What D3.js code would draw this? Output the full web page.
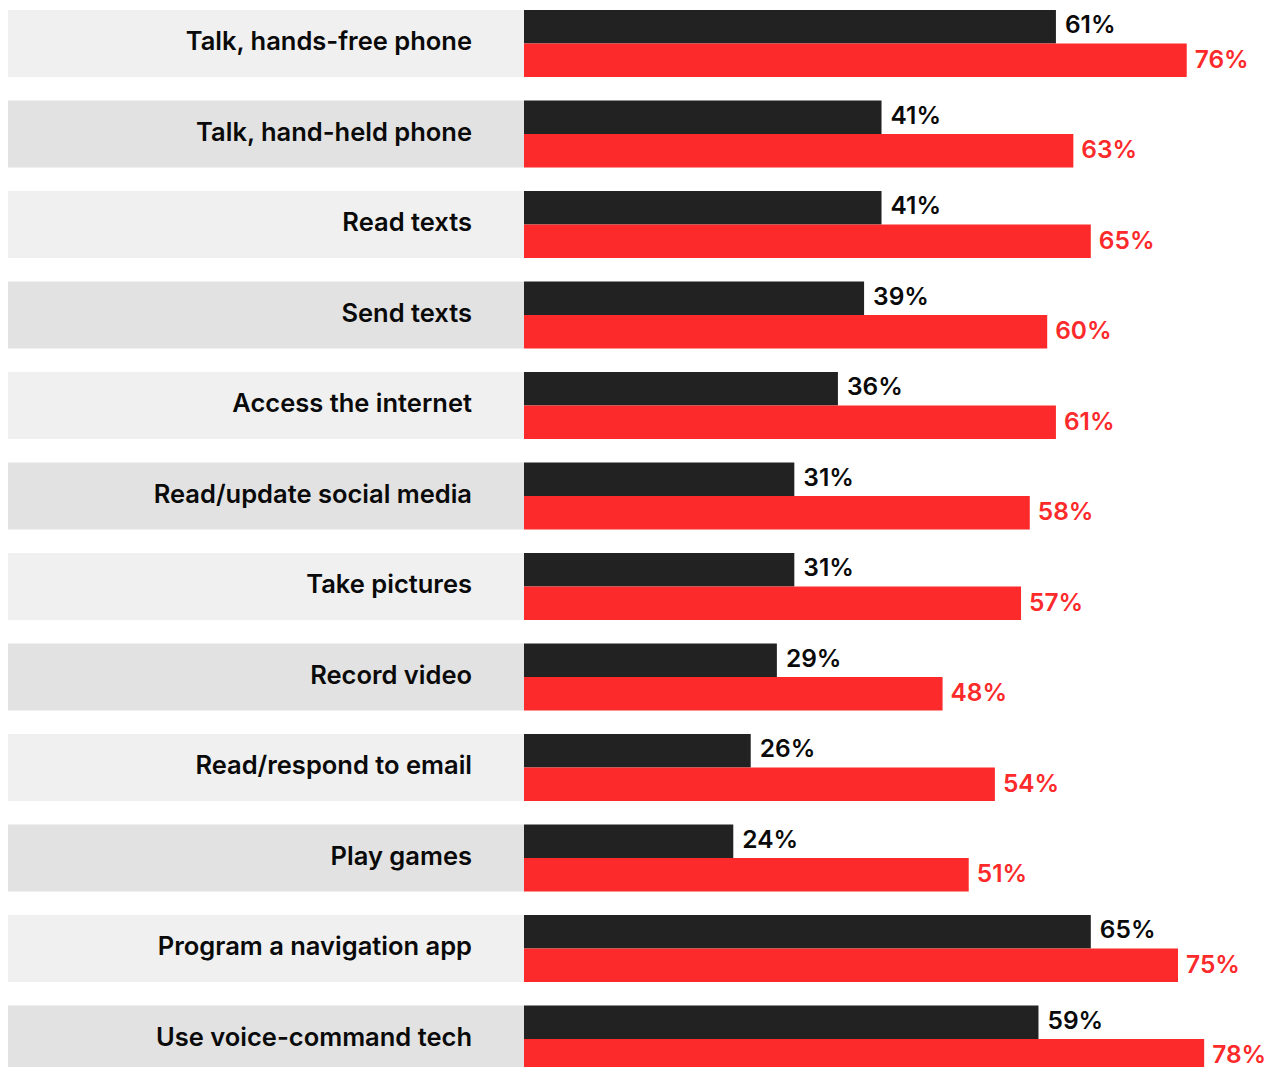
<!DOCTYPE html>
<html>
<head>
<meta charset="utf-8">
<script src="https://cdn.jsdelivr.net/npm/d3@7"></script>
<style>
  html, body { margin: 0; padding: 0; background: #fff; }
  svg { display: block; }
  text { font-family: Inter, "Noto Sans", sans-serif; font-weight: 600; }
</style>
</head>
<body>
<svg id="chart" width="1269" height="1067"></svg>
<script>
const categories = [
  "Talk, hands-free phone",
  "Talk, hand-held phone",
  "Read texts",
  "Send texts",
  "Access the internet",
  "Read/update social media",
  "Take pictures",
  "Record video",
  "Read/respond to email",
  "Play games",
  "Program a navigation app",
  "Use voice-command tech"
];
const seriesBlack = [61, 41, 41, 39, 36, 31, 31, 29, 26, 24, 65, 59];
const seriesRed   = [76, 63, 65, 60, 61, 58, 57, 48, 54, 51, 75, 78];

(function () {
const svg = d3.select("#chart");

const barX0 = 524;
const x = d3.scaleLinear().domain([0, 100]).range([barX0, barX0 + 872]);

const step = 90.5, bandH = 67, y0 = 10;
const y = d3.scaleBand()
  .domain(categories)
  .range([y0, y0 + (categories.length - 1) * step + bandH])
  .paddingInner((step - bandH) / step)
  .paddingOuter(0);

const data = categories.map((c, i) => ({ c, i, b: seriesBlack[i], r: seriesRed[i] }));

const rows = svg.selectAll("g.row").data(data).join("g").attr("class", "row")
  .attr("transform", d => `translate(0,${y(d.c)})`);

const bh = y.bandwidth();

rows.append("rect")
  .attr("x", 8).attr("y", 0)
  .attr("width", barX0 - 8).attr("height", bh)
  .attr("fill", d => d.i % 2 === 0 ? "#f0f0f0" : "#e2e2e2");

rows.append("text")
  .attr("x", 472).attr("y", bh / 2 - 2)
  .attr("dy", "0.35em")
  .attr("text-anchor", "end")
  .attr("font-size", 25.5)
  .attr("font-weight", 700)
  .attr("fill", "#0a0a0a")
  .text(d => d.c);

const half = bh / 2;

rows.append("rect")
  .attr("x", x(0)).attr("y", 0)
  .attr("width", d => x(d.b) - x(0)).attr("height", half)
  .attr("fill", "#222222");

rows.append("rect")
  .attr("x", x(0)).attr("y", half)
  .attr("width", d => x(d.r) - x(0)).attr("height", half)
  .attr("fill", "#fc2a2a");

rows.append("text")
  .attr("x", d => x(d.b) + 9).attr("y", half / 2 - 2)
  .attr("dy", "0.35em")
  .attr("font-size", 24.5)
  .attr("fill", "#0a0a0a")
  .text(d => d.b + "%");

rows.append("text")
  .attr("x", d => x(d.r) + 8).attr("y", half + half / 2 - 1)
  .attr("dy", "0.35em")
  .attr("font-size", 24.5)
  .attr("fill", "#fc2a2a")
  .text(d => d.r + "%");
})();
</script>
</body>
</html>
